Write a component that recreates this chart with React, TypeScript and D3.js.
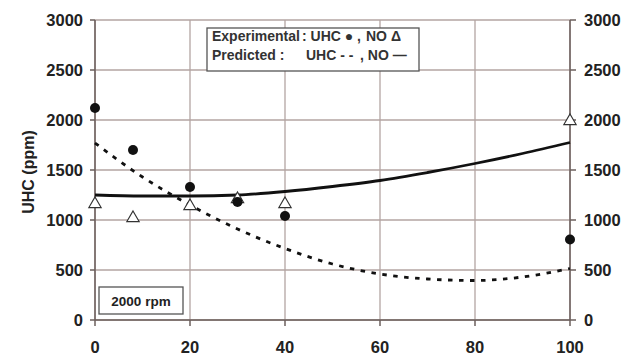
import React from "react";
import * as d3 from "d3";

// experimental points
const uhcExpX = [0, 8, 20, 30, 40, 100];
const uhcExpY = [2120, 1700, 1330, 1180, 1040, 805];
const noExpX = [0, 8, 20, 30, 40, 100];
const noExpY = [1170, 1030, 1150, 1220, 1170, 2000];

// predicted curves
const predX = [0, 10, 20, 30, 40, 50, 60, 70, 80, 90, 100];
const uhcPred = [1770, 1430, 1150, 910, 715, 560, 460, 410, 395, 430, 515];
const noPred = [1250, 1240, 1240, 1250, 1285, 1335, 1395, 1475, 1565, 1665, 1775];

const xTicks = [0, 20, 40, 60, 80, 100];
const yTicks = [0, 500, 1000, 1500, 2000, 2500, 3000];

const W = 632, H = 358;
const margin = { left: 95, right: 62, top: 20, bottom: 38 };

export default function App() {
  const x = d3.scaleLinear().domain([0, 100]).range([margin.left, W - margin.right]);
  const y = d3.scaleLinear().domain([0, 3000]).range([H - margin.bottom, margin.top]);

  const line = d3
    .line<number>()
    .x((_, i) => x(predX[i]))
    .y((d) => y(d))
    .curve(d3.curveMonotoneX);

  const grid = "#b3a5a2";
  const ink = "#111";
  const font = "Liberation Sans, Arial, sans-serif";
  const tri = d3.symbol().type(d3.symbolTriangle).size(65)();

  return (
    <svg width={W} height={H} style={{ position: "absolute", left: 0, top: 0, background: "#fff" }} fontFamily={font}>
      {/* grid */}
      {yTicks.map((t) => (
        <line key={"gy" + t} x1={x(0)} x2={x(100)} y1={y(t)} y2={y(t)} stroke={grid} strokeWidth={1.3} />
      ))}
      {xTicks.map((t) => (
        <line key={"gx" + t} x1={x(t)} x2={x(t)} y1={y(0)} y2={y(3000)} stroke={grid} strokeWidth={1.3} />
      ))}
      {/* axes */}
      <line x1={x(0)} x2={x(0)} y1={y(0)} y2={y(3000)} stroke="#6b5f5c" strokeWidth={1.5} />
      <line x1={x(100)} x2={x(100)} y1={y(0)} y2={y(3000)} stroke="#6b5f5c" strokeWidth={1.5} />
      <line x1={x(0)} x2={x(100)} y1={y(0)} y2={y(0)} stroke="#6b5f5c" strokeWidth={1.5} />
      {yTicks.map((t) => (
        <g key={"ty" + t}>
          <line x1={x(0) - 5} x2={x(0)} y1={y(t)} y2={y(t)} stroke="#6b5f5c" strokeWidth={1.5} />
          <line x1={x(100)} x2={x(100) + 6} y1={y(t)} y2={y(t)} stroke="#6b5f5c" strokeWidth={1.5} />
          <text x={x(0) - 12} y={y(t)} dy="0.36em" textAnchor="end" fontSize={16.5} fontWeight="bold" fill="#222">
            {t}
          </text>
          <text x={x(100) + 14} y={y(t)} dy="0.36em" textAnchor="start" fontSize={16.5} fontWeight="bold" fill="#222">
            {t}
          </text>
        </g>
      ))}
      {xTicks.map((t) => (
        <g key={"tx" + t}>
          <line x1={x(t)} x2={x(t)} y1={y(0)} y2={y(0) + 6} stroke="#6b5f5c" strokeWidth={1.5} />
          <text x={x(t)} y={y(0) + 33} textAnchor="middle" fontSize={16.5} fontWeight="bold" fill="#222">
            {t}
          </text>
        </g>
      ))}
      <text transform={`translate(34,${y(1500) + 2}) rotate(-90)`} textAnchor="middle" fontSize={16} fontWeight="bold" fill="#222">
        UHC (ppm)
      </text>

      {/* predicted curves */}
      <path d={line(uhcPred) || ""} fill="none" stroke={ink} strokeWidth={2.8} strokeDasharray="4.5 6.5" />
      <path d={line(noPred) || ""} fill="none" stroke={ink} strokeWidth={2.8} />

      {/* experimental points */}
      {noExpX.map((v, i) => (
        <path key={"no" + i} d={tri || ""} transform={`translate(${x(v)},${y(noExpY[i]) + 1})`} fill="#fff" stroke="#333" strokeWidth={1.2} />
      ))}
      {uhcExpX.map((v, i) => (
        <circle key={"uhc" + i} cx={x(v)} cy={y(uhcExpY[i])} r={5} fill={ink} />
      ))}

      {/* legend */}
      <rect x={207} y={28} width={212} height={43} fill="#fff" stroke="#555" strokeWidth={1.3} />
      <text y={41} fontSize={14} fontWeight="bold" fill="#333">
        <tspan x={212}>Experimental</tspan>
        <tspan x={302}>: UHC ● ,</tspan>
        <tspan x={366}>NO Δ</tspan>
      </text>
      <text y={60} fontSize={14} fontWeight="bold" fill="#333">
        <tspan x={212}>Predicted :</tspan>
        <tspan x={306}>UHC - -</tspan>
        <tspan x={360}>, NO —</tspan>
      </text>

      {/* rpm box */}
      <rect x={99} y={287} width={84} height={27} fill="#fff" stroke="#555" strokeWidth={1.3} />
      <text x={141} y={301} dy="0.36em" textAnchor="middle" fontSize={13.5} fontWeight="bold" fill="#222">
        2000 rpm
      </text>
    </svg>
  );
}
